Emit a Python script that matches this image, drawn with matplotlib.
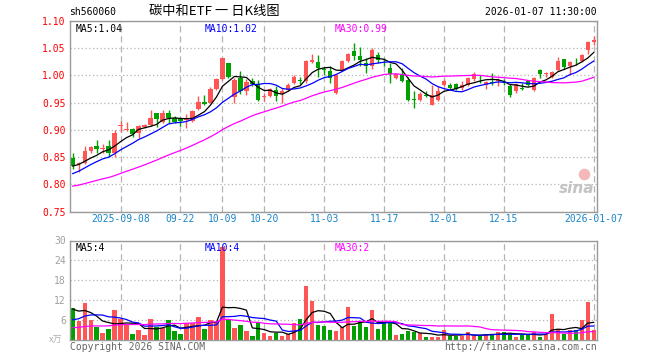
import numpy as np
import pandas as pd
import matplotlib
matplotlib.use("Agg")
import matplotlib.pyplot as plt

# trading days (weekdays minus exchange holidays)
holidays = ["2025-10-01", "2025-10-02", "2025-10-03", "2025-10-06",
            "2025-10-07", "2025-10-08", "2026-01-01", "2026-01-02"]
dates = pd.bdate_range("2025-08-27", "2026-01-07")
dates = dates[~dates.isin(pd.to_datetime(holidays))]

opens = [0.849, 0.837, 0.840, 0.862, 0.871, 0.865, 0.871, 0.858, 0.908, 0.900,
         0.901, 0.895, 0.905, 0.909, 0.932, 0.914, 0.931, 0.922, 0.920, 0.918,
         0.916, 0.938, 0.952, 0.950, 0.976, 0.994, 1.023, 0.960, 0.996, 0.971,
         0.989, 0.985, 0.961, 0.963, 0.974, 0.966, 0.974, 0.987, 0.991, 0.989,
         1.025, 1.024, 1.012, 1.008, 0.968, 1.010, 1.026, 1.045, 1.035, 1.023,
         1.017, 1.037, 1.027, 1.013, 0.995, 1.002, 0.992, 0.956, 0.955, 0.964,
         0.946, 0.955, 0.983, 0.982, 0.984, 0.977, 0.983, 0.994, 0.994, 0.982,
         0.987, 0.989, 0.987, 0.981, 0.971, 0.976, 0.989, 0.974, 1.010, 1.003,
         0.998, 1.010, 1.030, 1.017, 1.023, 1.026, 1.046, 1.061]
highs = [0.857, 0.842, 0.871, 0.871, 0.882, 0.874, 0.882, 0.900, 0.917, 0.915,
         0.903, 0.909, 0.911, 0.937, 0.932, 0.937, 0.936, 0.925, 0.924, 0.930,
         0.937, 0.963, 0.964, 0.978, 0.996, 1.033, 1.023, 0.995, 1.009, 0.994,
         0.995, 0.992, 0.967, 0.977, 0.980, 0.977, 0.987, 1.001, 0.998, 1.029,
         1.040, 1.038, 1.015, 1.017, 1.003, 1.029, 1.041, 1.059, 1.053, 1.032,
         1.050, 1.044, 1.032, 1.023, 1.003, 1.013, 0.998, 0.971, 0.970, 0.971,
         0.983, 0.980, 0.993, 0.987, 0.986, 0.989, 0.997, 1.006, 1.000, 0.990,
         1.004, 0.995, 0.994, 0.985, 0.987, 0.986, 0.990, 0.998, 1.012, 1.007,
         1.008, 1.034, 1.030, 1.026, 1.032, 1.040, 1.063, 1.072]
lows = [0.828, 0.822, 0.838, 0.857, 0.857, 0.857, 0.851, 0.850, 0.897, 0.899,
        0.887, 0.885, 0.903, 0.907, 0.906, 0.913, 0.912, 0.913, 0.907, 0.903,
        0.914, 0.937, 0.946, 0.949, 0.974, 0.992, 0.995, 0.950, 0.966, 0.965,
        0.980, 0.953, 0.954, 0.961, 0.953, 0.949, 0.971, 0.985, 0.984, 0.987,
        1.022, 0.997, 1.000, 0.987, 0.966, 1.008, 1.024, 1.029, 1.017, 1.004,
        1.012, 1.023, 1.018, 0.986, 0.994, 0.988, 0.953, 0.940, 0.954, 0.961,
        0.945, 0.954, 0.981, 0.976, 0.974, 0.974, 0.981, 0.989, 0.986, 0.975,
        0.983, 0.980, 0.982, 0.960, 0.968, 0.974, 0.981, 0.972, 0.995, 0.998,
        0.996, 1.009, 1.012, 1.001, 1.020, 1.024, 1.040, 1.056]
closes = [0.834, 0.839, 0.861, 0.868, 0.865, 0.867, 0.857, 0.895, 0.909, 0.902,
          0.893, 0.907, 0.909, 0.922, 0.920, 0.932, 0.922, 0.915, 0.916, 0.919,
          0.934, 0.952, 0.947, 0.976, 0.993, 1.033, 0.997, 0.992, 0.972, 0.988,
          0.984, 0.955, 0.963, 0.975, 0.963, 0.972, 0.983, 0.998, 0.990, 1.027,
          1.029, 1.014, 1.010, 0.995, 1.001, 1.026, 1.039, 1.035, 1.029, 1.017,
          1.047, 1.029, 1.026, 1.002, 1.002, 0.990, 0.955, 0.955, 0.966, 0.963,
          0.964, 0.972, 0.990, 0.977, 0.976, 0.983, 0.995, 1.002, 0.993, 0.988,
          0.986, 0.992, 0.986, 0.965, 0.984, 0.975, 0.983, 0.995, 1.002, 1.004,
          1.007, 1.026, 1.015, 1.024, 1.022, 1.038, 1.061, 1.066]
volumes = [9.6, 5.6, 11.1, 5.9, 3.8, 2.2, 3.3, 9.1, 6.4, 4.7,
           1.8, 3.0, 1.5, 6.3, 4.0, 3.5, 5.9, 2.7, 1.8, 5.1,
           5.1, 6.9, 3.3, 5.9, 5.3, 28.1, 6.1, 3.6, 4.5, 2.8,
           1.2, 5.1, 2.1, 1.2, 2.2, 1.2, 1.8, 5.1, 6.3, 16.4,
           11.9, 4.5, 4.2, 3.0, 2.8, 4.0, 9.8, 4.2, 5.6, 3.8,
           8.9, 3.3, 5.3, 5.3, 1.5, 1.8, 2.8, 2.4, 2.0, 1.0,
           1.0, 1.0, 3.0, 1.2, 1.2, 1.2, 2.4, 1.2, 1.2, 1.8,
           1.8, 2.4, 2.4, 1.8, 1.0, 1.4, 1.8, 2.4, 1.0, 1.8,
           7.9, 3.2, 1.8, 3.0, 3.0, 6.1, 11.5, 3.0]

# sessions before the window, needed to warm up the moving averages
pre_close = [0.783, 0.779, 0.781, 0.776, 0.780, 0.785, 0.790, 0.788, 0.784, 0.781,
             0.786, 0.789, 0.793, 0.790, 0.786, 0.784, 0.788, 0.791, 0.789, 0.787,
             0.795, 0.801, 0.806, 0.812, 0.816, 0.825, 0.832, 0.838, 0.840]
pre_vol = [2.4, 2.8, 2.1, 2.6, 3.0, 2.2, 2.5, 2.9, 2.3, 2.0,
           2.7, 2.5, 2.4, 2.6, 2.3, 2.8, 2.2, 2.6, 2.5, 2.6,
           2.5, 3.1, 2.6, 3.4, 2.9, 8.5, 10.2, 9.0, 9.2]

tick_dates = ["2025-09-08", "2025-09-22", "2025-10-09", "2025-10-20", "2025-11-03",
              "2025-11-17", "2025-12-01", "2025-12-15", "2026-01-07"]
tick_labels = ["2025-09-08", "09-22", "10-09", "10-20", "11-03",
               "11-17", "12-01", "12-15", "2026-01-07"]
price_ticks = [0.75, 0.80, 0.85, 0.90, 0.95, 1.00, 1.05, 1.10]
vol_ticks = [6, 12, 18, 24, 30]

RED = "#ff5555"
GREEN = "#00a000"
GRID = "#b4b4b4"
FRAME = "#9a9a9a"
MONO = "DejaVu Sans Mono"
CJK = ["Noto Sans CJK SC", "DejaVu Sans"]

W, H = 660, 360


def moving_avg(values, history, n):
    s = pd.Series(list(history) + list(values))
    return s.rolling(n).mean().to_numpy()[len(history):]


def px(x, y):
    return x / W, 1 - y / H


x = np.arange(len(closes))
o = np.array(opens)
c = np.array(closes)
up = c >= o
colors = np.where(up, RED, GREEN)
tick_pos = [dates.get_loc(pd.Timestamp(d)) for d in tick_dates]

fig = plt.figure(figsize=(W / 100, H / 100), dpi=100)
ax1 = fig.add_axes([70 / W, 1 - 211.7 / H, 527 / W, 190.7 / H])
ax2 = fig.add_axes([70 / W, 20 / H, 527 / W, 99.5 / H])

for ax in (ax1, ax2):
    ax.set_xlim(-0.45, len(closes) - 0.45)
    ax.set_xticks(tick_pos)
    ax.grid(axis="x", color=GRID, linestyle=(0, (5, 3)), linewidth=0.9)
    ax.grid(axis="y", color=GRID, linestyle=(0, (1, 2)), linewidth=0.9)
    ax.set_axisbelow(True)
    ax.tick_params(length=0)
    for sp in ax.spines.values():
        sp.set_color(FRAME)
        sp.set_linewidth(1.0)

# price panel
ax1.vlines(x, lows, highs, colors=colors, linewidth=1.0)
body = np.maximum(np.abs(c - o), 0.0013)
ax1.bar(x, body, bottom=np.minimum(o, c), width=0.72, color=colors, linewidth=0)
ax1.plot(x, moving_avg(closes, pre_close, 5), color="black", lw=0.9)
ax1.plot(x, moving_avg(closes, pre_close, 10), color="#0000ff", lw=0.9)
ax1.plot(x, moving_avg(closes, pre_close, 30), color="#ff00ff", lw=0.9)
ax1.set_ylim(0.75, 1.10)
ax1.set_yticks(price_ticks)
ax1.set_yticklabels([f"{t:.2f}" for t in price_ticks], color="red",
                    fontsize=7, family=MONO)
ax1.set_xticklabels(tick_labels, color="#1a86c8", fontsize=7, family=MONO)
ax1.tick_params(axis="x", pad=2)
ax1.tick_params(axis="y", pad=3)

ax1.text(0.01, 0.985, "MA5:1.04", transform=ax1.transAxes, fontsize=7,
         family=MONO, color="black", va="top")
ax1.text(0.256, 0.985, "MA10:1.02", transform=ax1.transAxes, fontsize=7,
         family=MONO, color="#0000ff", va="top")
ax1.text(0.503, 0.985, "MA30:0.99", transform=ax1.transAxes, fontsize=7,
         family=MONO, color="#ff00ff", va="top")
# faint sina watermark
ax1.scatter([0.975], [0.2], s=70, transform=ax1.transAxes, color="#f4b8b8",
            linewidth=0, zorder=1)
ax1.text(0.995, 0.12, "sina", transform=ax1.transAxes, fontsize=11,
         style="italic", weight="bold", color="#c4c4c4", ha="right", va="center")

# volume panel
ax2.bar(x, volumes, width=0.72, color=colors, linewidth=0)
ax2.plot(x, moving_avg(volumes, pre_vol, 5), color="black", lw=0.9)
ax2.plot(x, moving_avg(volumes, pre_vol, 10), color="#0000ff", lw=0.9)
ax2.plot(x, moving_avg(volumes, pre_vol, 30), color="#ff00ff", lw=0.9)
ax2.set_ylim(0, 30)
ax2.set_yticks(vol_ticks)
ax2.set_yticklabels([str(t) for t in vol_ticks], color="#a0a0a0",
                    fontsize=7, family=MONO)
ax2.tick_params(axis="y", pad=3)
ax2.set_xticklabels([])

ax2.text(0.01, 0.97, "MA5:4", transform=ax2.transAxes, fontsize=7,
         family=MONO, color="black", va="top")
ax2.text(0.256, 0.97, "MA10:4", transform=ax2.transAxes, fontsize=7,
         family=MONO, color="#0000ff", va="top")
ax2.text(0.503, 0.97, "MA30:2", transform=ax2.transAxes, fontsize=7,
         family=MONO, color="#ff00ff", va="top")

# header and footer
fig.text(*px(69, 12), "sh560060", fontsize=7, family=MONO, va="center")
fig.text(*px(149, 12), "碳中和ETF 一 日K线图", fontsize=9.5, family=CJK, va="center")
fig.text(*px(597, 12), "2026-01-07 11:30:00", fontsize=7, family=MONO,
         va="center", ha="right")
fig.text(*px(49, 340), "x万", fontsize=6.5, family=CJK, color="#b0b0b0", va="center")
fig.text(*px(70, 347), "Copyright 2026 SINA.COM", fontsize=7, family=MONO,
         color="#666666", va="center")
fig.text(*px(597, 347), "http://finance.sina.com.cn", fontsize=7, family=MONO,
         color="#666666", va="center", ha="right")

fig.savefig("out.png", dpi=100, facecolor="white")
